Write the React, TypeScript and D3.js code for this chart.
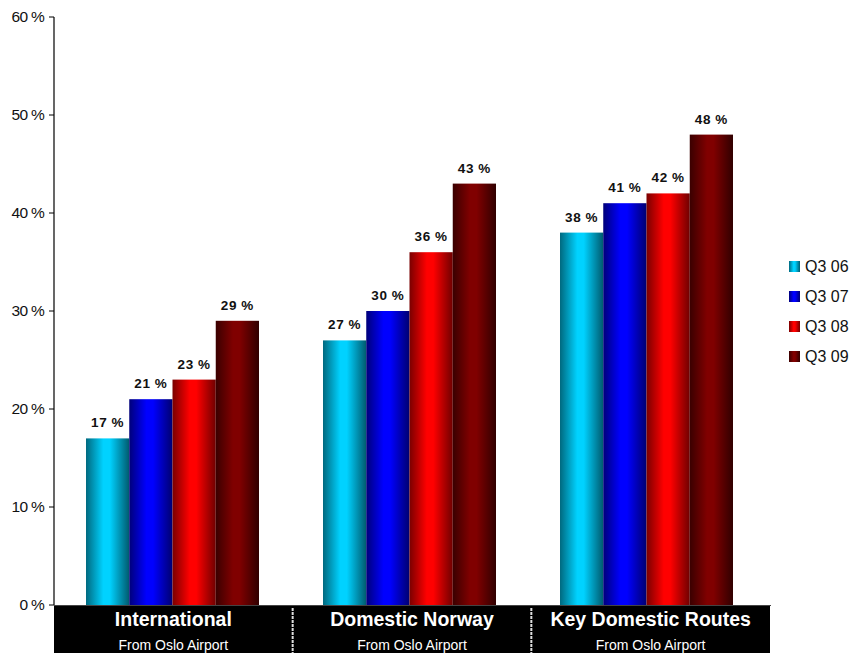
import React from "react";
import * as d3 from "d3";

const categories = ["International", "Domestic Norway", "Key Domestic Routes"];
const subLabels = ["From Oslo Airport", "From Oslo Airport", "From Oslo Airport"];
const seriesNames = ["Q3 06", "Q3 07", "Q3 08", "Q3 09"];
const q306 = [17, 27, 38];
const q307 = [21, 30, 41];
const q308 = [23, 36, 42];
const q309 = [29, 43, 48];
const seriesValues = [q306, q307, q308, q309];
const yTicks = [0, 10, 20, 30, 40, 50, 60];

const gradStops = [
  ["#00697f", "#00d2ff", "#005a6e"],
  ["#00007a", "#0000ff", "#000070"],
  ["#7a0000", "#ff0000", "#700000"],
  ["#3a0000", "#800000", "#300000"],
];

export default function App() {
  const W = 868, H = 653;
  const left = 54, right = 771, top = 17, bottom = 605;
  const y = d3.scaleLinear().domain([0, 60]).range([bottom, top]);
  const x0 = d3.scaleBand<string>().domain(categories).range([left, 765]).paddingInner(0).paddingOuter(0);
  const x1 = d3.scaleBand<string>().domain(seriesNames).range([0, x0.bandwidth()]).paddingInner(0).paddingOuter(0.74);
  const xl = d3.scaleBand<string>().domain(categories).range([left, 770]).paddingInner(0).paddingOuter(0);
  const font = "'Liberation Sans', Arial, sans-serif";

  return (
    <svg width={W} height={H} style={{ position: "absolute", left: 0, top: 0 }} fontFamily={font}>
      <defs>
        {gradStops.map((s, i) => (
          <linearGradient key={i} id={`g${i}`} x1="0" x2="1" y1="0" y2="0">
            <stop offset="0%" stopColor={s[0]} />
            <stop offset="40%" stopColor={s[1]} />
            <stop offset="55%" stopColor={s[1]} />
            <stop offset="100%" stopColor={s[2]} />
          </linearGradient>
        ))}
      </defs>
      <rect width={W} height={H} fill="#fff" />
      {categories.map((c, ci) => (
        <g key={c} transform={`translate(${x0(c)},0)`}>
          {seriesNames.map((s, si) => {
            const v = seriesValues[si][ci];
            const bx = x1(s)!;
            return (
              <g key={s}>
                <rect x={bx} y={y(v)} width={x1.bandwidth()} height={bottom - y(v)} fill={`url(#g${si})`} />
                <text x={bx + x1.bandwidth() / 2} y={y(v) - 11} textAnchor="middle" fontSize={13.5} fontWeight="bold" fill="#111" letterSpacing={0.6}>
                  {`${v} %`}
                </text>
              </g>
            );
          })}
        </g>
      ))}
      <line x1={left} x2={left} y1={top} y2={bottom} stroke="#000" strokeWidth={1.2} />
      {yTicks.map((t) => (
        <g key={t}>
          <line x1={left - 5} x2={left} y1={y(t)} y2={y(t)} stroke="#000" />
          <text x={left - 10} y={y(t)} dy="0.35em" textAnchor="end" fontSize={15.5} fill="#111" letterSpacing={-0.7}>
            {`${t} %`}
          </text>
        </g>
      ))}
      <line x1={left} x2={right} y1={bottom + 0.5} y2={bottom + 0.5} stroke="#444" />
      <rect x={left} y={bottom + 1} width={xl.range()[1] - left} height={H - bottom} fill="#000" />
      {categories.slice(1).map((c) => (
        <line key={c} x1={xl(c)!} x2={xl(c)!} y1={bottom + 3} y2={H} stroke="#ddd" strokeWidth={2} strokeDasharray="3,1" />
      ))}
      {categories.map((c, ci) => (
        <g key={c}>
          <text x={xl(c)! + xl.bandwidth() / 2} y={626} textAnchor="middle" fontSize={19.5} fontWeight="bold" fill="#fff">
            {c}
          </text>
          <text x={xl(c)! + xl.bandwidth() / 2} y={650} textAnchor="middle" fontSize={14} fill="#fff">
            {subLabels[ci]}
          </text>
        </g>
      ))}
      {seriesNames.map((s, si) => (
        <g key={s} transform={`translate(789,${261 + si * 30})`}>
          <rect x={0} y={0} width={11} height={11} fill={`url(#g${si})`} />
          <text x={16} y={5.5} dy="0.36em" fontSize={16} fill="#111">
            {s}
          </text>
        </g>
      ))}
    </svg>
  );
}
